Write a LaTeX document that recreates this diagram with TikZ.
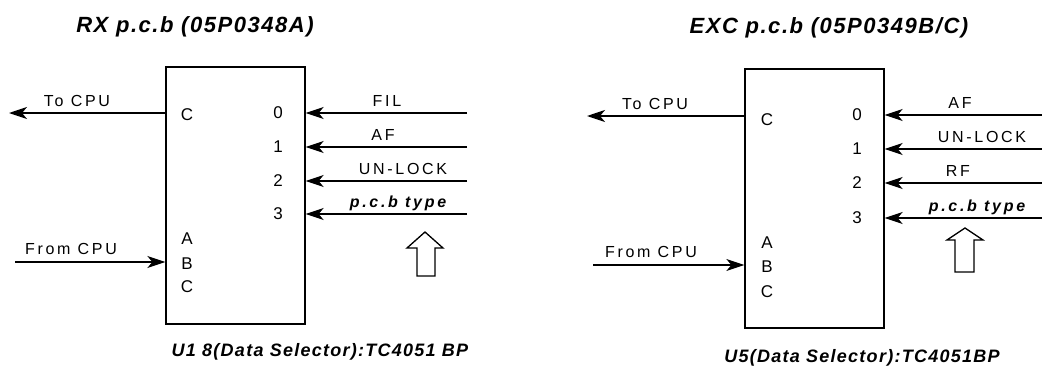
\documentclass[tikz,border=0pt]{standalone}
\usepackage{fontspec}
\setmainfont{Liberation Sans}
\newfontfamily\widefont[LetterSpace=17]{Liberation Sans}
\newfontfamily\titlefont[LetterSpace=7]{Liberation Sans}
\usepackage{tikz}
\usetikzlibrary{
  arrows.meta,
  positioning,
  calc,
}

\begin{document}
\begin{tikzpicture}[
  x=1pt, y=-1pt,
  font=\fontsize{16}{18}\selectfont\widefont,
  chip/.style={draw, line width=1.3pt, minimum width=139pt, minimum height=257pt, inner sep=0pt},
  sig/.style={line width=1.4pt, -{Stealth[length=18pt, width=12pt, inset=5pt]}},
  ttl/.style={font=\fontsize{22}{24}\selectfont\titlefont\bfseries\itshape},
  part/.style={font=\fontsize{18}{20}\selectfont\titlefont\bfseries\itshape},
  pin/.style={font=\fontsize{17}{19}\selectfont\titlefont},
  lbl/.style={anchor=base},
  hollow/.style={draw, line width=1.3pt, fill=white},
]
  % Page: 1pt = 1px of the reference, y down
  \useasboundingbox (0,0) rectangle (1042,367);

  % ---------------- RX p.c.b ----------------
  \node[ttl] (rxtitle) at (195,27) {RX p.c.b (05P0348A)};
  \node[chip] (rx) at (235.5,195.5) {};

  % Pins
  \node[pin] (rxC) at (187,115) {C};
  \node[pin] (rxA) at (187,239) {A};
  \node[pin] (rxB) at (187,264) {B};
  \node[pin] (rxCC) at (187,287) {C};

  % Output to CPU
  \coordinate (rxout) at (9,113);
  \draw[sig] (rx.west |- rxout) -- (rxout);
  \node[lbl] (rxtocpu) at (77,106) {To CPU};

  % Select from CPU
  \coordinate (rxsel) at (15,262);
  \draw[sig] (rxsel) -- (rxsel -| rx.west);
  \node[lbl] (rxfromcpu) at (71,254) {From CPU};

  % Data inputs 0..3
  \foreach \n/\y/\lx/\txt in {0/113/387/FIL, 1/147/383/AF, 2/181/403/UN-LOCK,
      3/214/398/{\bfseries\itshape p.c.b type}} {
    \node[pin] (rxn\n) at (278,\y) {\n};
    \coordinate (rxin\n) at (467,\y);
    \draw[sig] (rxin\n) -- (rxin\n -| rx.east);
    \node[lbl] (rxlbl\n) at (\lx,{\y-7}) {\txt};
  }

  % Type pointer
  \draw[hollow] (425,232) -- (443,248) -- (435,248) -- (435,276)
    -- (417,276) -- (417,248) -- (407,248) -- cycle;

  \node[part] (rxpart) at (320,352) {U1 8(Data Selector):TC4051 BP};

  % ---------------- EXC p.c.b ----------------
  \node[ttl] (exctitle) at (829,28) {EXC p.c.b (05P0349B/C)};
  \node[chip, minimum height=259pt] (exc) at (814.5,198.5) {};

  % Pins
  \node[pin] (excC) at (767,120) {C};
  \node[pin] (excA) at (767,243) {A};
  \node[pin] (excB) at (767,267) {B};
  \node[pin] (excCC) at (767,292) {C};

  % Output to CPU
  \coordinate (excout) at (587,116);
  \draw[sig] (exc.west |- excout) -- (excout);
  \node[lbl] (exctocpu) at (655,109) {To CPU};

  % Select from CPU
  \coordinate (excsel) at (593,265);
  \draw[sig] (excsel) -- (excsel -| exc.west);
  \node[lbl] (excfromcpu) at (651,257) {From CPU};

  % Data inputs 0..3
  \foreach \n/\y/\lx/\txt in {0/115/960/AF, 1/149/982/UN-LOCK, 2/183/958/RF,
      3/218/977/{\bfseries\itshape p.c.b type}} {
    \node[pin] (excn\n) at (857,\y) {\n};
    \coordinate (excin\n) at (1042,\y);
    \draw[sig] (excin\n) -- (excin\n -| exc.east);
    \node[lbl] (exclbl\n) at (\lx,{\y-7}) {\txt};
  }

  % Type pointer
  \draw[hollow] (965,228) -- (983,240) -- (974,240) -- (974,272)
    -- (955,272) -- (955,240) -- (947,240) -- cycle;

  \node[part] (excpart) at (862,358) {U5(Data Selector):TC4051BP};

\end{tikzpicture}
\end{document}
